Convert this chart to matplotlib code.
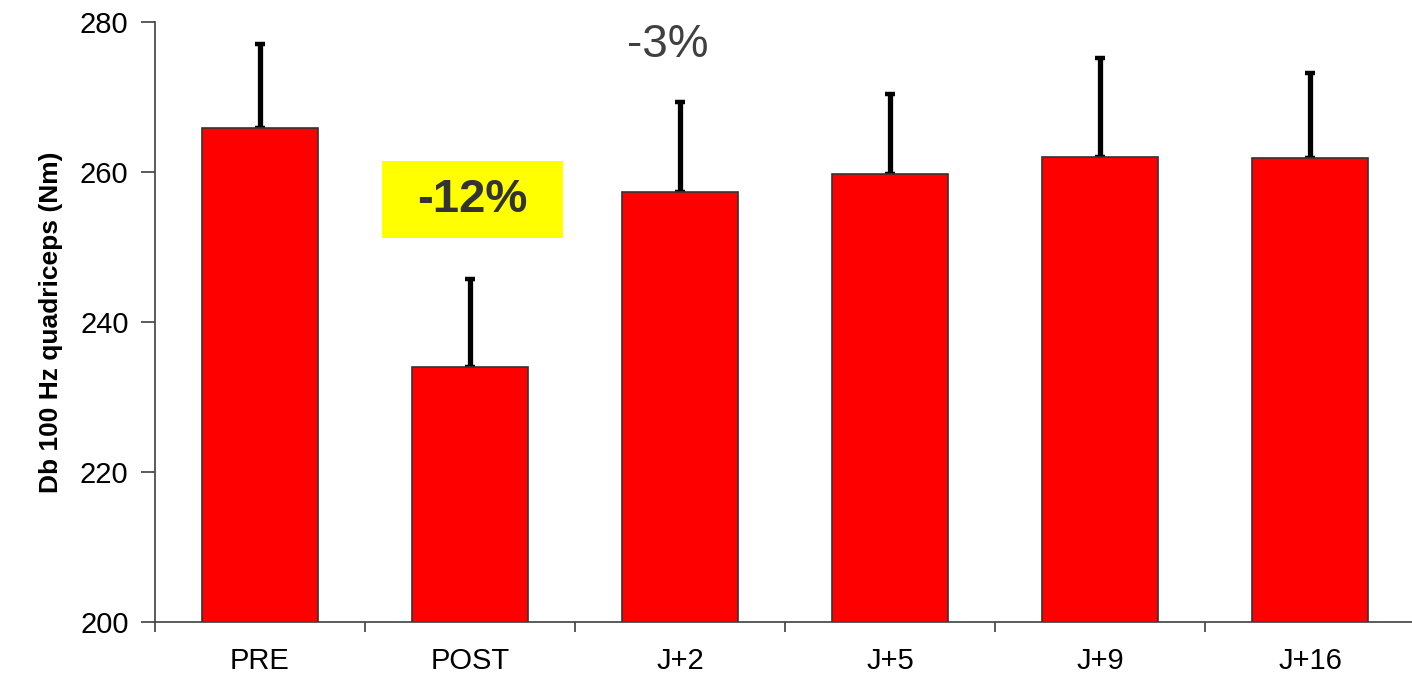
import matplotlib
matplotlib.use("Agg")
import matplotlib.pyplot as plt
from matplotlib.patches import Rectangle
import numpy as np

plt.rcParams["font.family"] = ["Liberation Sans", "DejaVu Sans"]

labels = ["PRE", "POST", "J+2", "J+5", "J+9", "J+16"]
means = [265.9, 234.0, 257.3, 259.7, 262.0, 261.9]
sd_up = [11.2, 11.7, 12.0, 10.7, 13.2, 11.3]

drop_post = "-12%"
drop_j2 = "-3%"

fig = plt.figure(figsize=(14.12, 6.78), dpi=100)
ax = fig.add_axes([155 / 1412, 56 / 678, 1260 / 1412, 600 / 678])

x = np.arange(len(labels))
ax.bar(x, means, width=0.55, color="#ff0000", edgecolor="#333333",
       linewidth=1.2, zorder=2)
ax.errorbar(x, means, yerr=[np.zeros(len(x)), sd_up], fmt="none",
            ecolor="black", elinewidth=3.8, capsize=3.4, capthick=3.2,
            zorder=1)

ax.set_xlim(-0.5, len(labels) - 0.5)
ax.set_ylim(200, 280)
ax.set_yticks([200, 220, 240, 260, 280])
ax.set_xticks(x)
ax.set_xticklabels(labels)
ax.set_xticks(np.arange(len(labels) + 1) - 0.5, minor=True)
ax.tick_params(axis="x", which="major", length=0, labelsize=21, pad=18)
ax.tick_params(axis="x", which="minor", length=7, width=1.2, color="#404040")
ax.tick_params(axis="y", length=10, width=1.2, color="#404040",
               labelsize=21, pad=9)
for s in ("top", "right"):
    ax.spines[s].set_visible(False)
for s in ("left", "bottom"):
    ax.spines[s].set_color("#404040")
    ax.spines[s].set_linewidth(1.2)

ax.set_ylabel("Db 100 Hz quadriceps (Nm)", fontsize=19, fontweight="bold",
              labelpad=12)

# yellow highlight behind the POST drop
ax.add_patch(Rectangle((0.581, 251.2), 0.862, 10.3, facecolor="#ffff00",
                       edgecolor="none", zorder=3))
ax.text(1.01, 256.3, drop_post, fontsize=34, fontweight="bold",
        color="#333333", ha="center", va="center", zorder=4)
ax.text(1.94, 276.9, drop_j2, fontsize=33, color="#404040", ha="center",
        va="center")

fig.savefig("out.png", dpi=100)
